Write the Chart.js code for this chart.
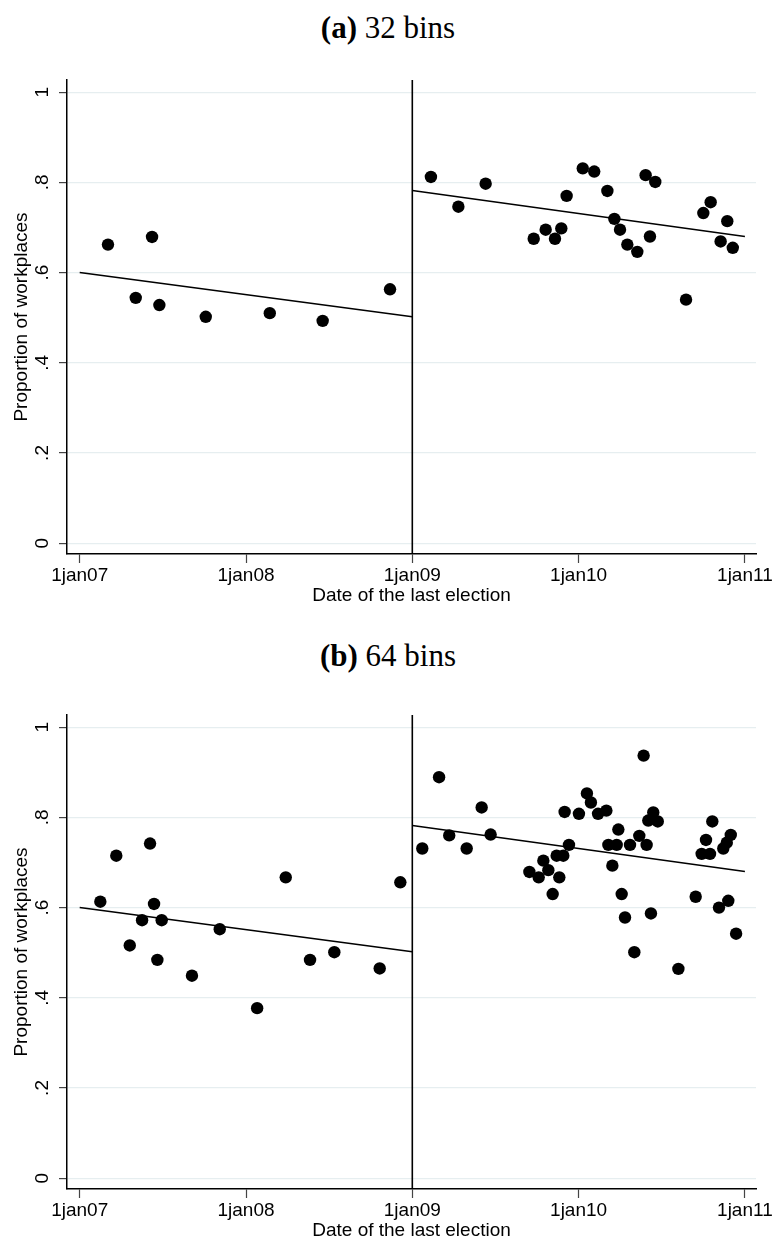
<!DOCTYPE html>
<html>
<head>
<meta charset="utf-8">
<script src="https://cdn.jsdelivr.net/npm/chart.js@4.4.1/dist/chart.umd.min.js"></script>
<style>
  html, body { margin: 0; padding: 0; background: #fff; }
  body { width: 776px; height: 1240px; position: relative; overflow: hidden; }
  .panel-title {
    position: absolute; left: 0; width: 776px; text-align: center;
    font-family: "Liberation Serif", "Times New Roman", serif;
    font-size: 31px; line-height: 34px; color: #000;
  }
  .panel-title b { font-weight: bold; }
  canvas { position: absolute; left: 0; }
</style>
</head>
<body>
<div class="panel-title" style="top:11px"><b>(a)</b> 32 bins</div>
<canvas id="bins32" width="776" height="605" style="top:0"></canvas>
<div class="panel-title" style="top:639px"><b>(b)</b> 64 bins</div>
<canvas id="bins64" width="776" height="605" style="top:635px"></canvas>
<script>
// Election dates as decimal years; the reform cutoff is 1 January 2009.
const cutoffDate = 2009;
const xTickDates = [2007, 2008, 2009, 2010, 2011];
const xTickLabels = ['1jan07', '1jan08', '1jan09', '1jan10', '1jan11'];
const yTickValues = [0, 0.2, 0.4, 0.6, 0.8, 1];
const yTickLabels = ['0', '.2', '.4', '.6', '.8', '1'];

// Linear fits on each side of the cutoff (same for both binnings)
const fitPreDates = [2007, 2009];
const fitPreShare = [0.600, 0.502];
const fitPostDates = [2009, 2011];
const fitPostShare = [0.782, 0.680];

// 32 bins: bin mean dates and proportions
const bins32PreDates = [2007.170, 2007.337, 2007.435, 2007.479, 2007.758, 2008.143, 2008.461, 2008.866];
const bins32PreShare = [0.662, 0.544, 0.679, 0.528, 0.502, 0.510, 0.493, 0.563];
const bins32PostDates = [2009.112, 2009.277, 2009.441, 2009.730, 2009.802, 2009.858, 2009.896, 2009.928,
  2010.025, 2010.094, 2010.173, 2010.215, 2010.249, 2010.293, 2010.353, 2010.403,
  2010.429, 2010.461, 2010.646, 2010.750, 2010.794, 2010.854, 2010.894, 2010.927];
const bins32PostShare = [0.812, 0.746, 0.797, 0.675, 0.695, 0.675, 0.698, 0.770,
  0.831, 0.824, 0.781, 0.719, 0.695, 0.662, 0.646, 0.816,
  0.680, 0.801, 0.540, 0.732, 0.756, 0.669, 0.714, 0.655];

// 64 bins
const bins64PreDates = [2007.124, 2007.220, 2007.301, 2007.375, 2007.423, 2007.447, 2007.467, 2007.493,
  2007.675, 2007.842, 2008.067, 2008.239, 2008.385, 2008.531, 2008.804, 2008.928];
const bins64PreShare = [0.613, 0.715, 0.516, 0.572, 0.742, 0.608, 0.484, 0.572,
  0.449, 0.552, 0.377, 0.667, 0.484, 0.501, 0.465, 0.656];
const bins64PostDates = [2009.060, 2009.161, 2009.222, 2009.327, 2009.417, 2009.471, 2009.704, 2009.760,
  2009.788, 2009.818, 2009.844, 2009.868, 2009.884, 2009.908, 2009.916, 2009.942,
  2010.002, 2010.050, 2010.074, 2010.117, 2010.167, 2010.179, 2010.203, 2010.229,
  2010.239, 2010.259, 2010.279, 2010.309, 2010.335, 2010.365, 2010.391, 2010.409,
  2010.419, 2010.435, 2010.449, 2010.476, 2010.600, 2010.704, 2010.740, 2010.766,
  2010.790, 2010.804, 2010.844, 2010.870, 2010.891, 2010.900, 2010.915, 2010.947];
const bins64PostShare = [0.731, 0.889, 0.760, 0.731, 0.822, 0.762, 0.679, 0.667,
  0.704, 0.683, 0.630, 0.715, 0.667, 0.715, 0.812, 0.739,
  0.808, 0.853, 0.833, 0.808, 0.815, 0.739, 0.693, 0.739,
  0.773, 0.630, 0.578, 0.739, 0.501, 0.759, 0.937, 0.739,
  0.793, 0.587, 0.811, 0.791, 0.464, 0.624, 0.719, 0.750,
  0.719, 0.791, 0.600, 0.731, 0.744, 0.615, 0.761, 0.542];

const FONT = '"Liberation Sans", Arial, Helvetica, sans-serif';

const pairs = (xs, ys) => xs.map((x, i) => ({ x: x, y: ys[i] }));

// Vertical reference line at the cutoff date
const cutoffLine = {
  id: 'cutoffLine',
  afterDatasetsDraw(chart, args, opts) {
    const { ctx, chartArea, scales } = chart;
    const x = scales.x.getPixelForValue(opts.value);
    ctx.save();
    ctx.strokeStyle = '#000';
    ctx.lineWidth = 1.6;
    ctx.beginPath();
    ctx.moveTo(x, chartArea.top);
    ctx.lineTo(x, chartArea.bottom);
    ctx.stroke();
    ctx.restore();
  }
};

function dots(data) {
  return {
    data: data, showLine: false,
    pointRadius: 6.2, pointHoverRadius: 6.2,
    pointBackgroundColor: '#000', pointBorderWidth: 0, borderWidth: 0
  };
}
function fitLine(data) {
  return {
    data: data, showLine: true, borderColor: '#000', borderWidth: 1.6,
    pointRadius: 0, pointHoverRadius: 0, fill: false, tension: 0
  };
}

function drawPanel(canvasId, preDates, preShare, postDates, postShare) {
  new Chart(document.getElementById(canvasId), {
    type: 'scatter',
    data: {
      datasets: [
        fitLine(pairs(fitPreDates, fitPreShare)),
        fitLine(pairs(fitPostDates, fitPostShare)),
        dots(pairs(preDates, preShare)),
        dots(pairs(postDates, postShare))
      ]
    },
    options: {
      responsive: false,
      animation: false,
      devicePixelRatio: 1,
      layout: { padding: { top: 80, right: 20, left: 0, bottom: 0 } },
      plugins: {
        legend: { display: false },
        tooltip: { enabled: false },
        cutoffLine: { value: cutoffDate }
      },
      scales: {
        x: {
          type: 'linear',
          min: 2006.9236, max: 2011.0667,
          afterBuildTicks: s => { s.ticks = xTickDates.map(v => ({ value: v })); },
          afterFit: s => { s.height = 51; },
          ticks: {
            callback: v => xTickLabels[xTickDates.indexOf(v)],
            autoSkip: false, maxRotation: 0, minRotation: 0,
            padding: 1, color: '#000',
            font: { family: FONT, size: 19 }
          },
          grid: { drawOnChartArea: false, tickLength: 9, tickColor: '#444', tickWidth: 1.2 },
          border: { color: '#000', width: 1.5 },
          title: {
            display: true, text: 'Date of the last election', color: '#000',
            font: { family: FONT, size: 19, lineHeight: 1 },
            padding: { top: 0, bottom: 0 }
          }
        },
        y: {
          type: 'linear',
          min: -0.024, max: 1.027,
          afterBuildTicks: s => { s.ticks = yTickValues.map(v => ({ value: v })); },
          afterFit: s => { s.width = 67; },
          ticks: {
            callback: v => yTickLabels[yTickValues.indexOf(v)],
            minRotation: 90, maxRotation: 90, crossAlign: 'center',
            padding: 8, color: '#000',
            font: { family: FONT, size: 19 }
          },
          grid: { color: '#e6eef0', lineWidth: 1.2, tickLength: 8, tickColor: '#444', tickWidth: 1.2 },
          border: { color: '#000', width: 1.5 },
          title: {
            display: true, text: 'Proportion of workplaces', color: '#000',
            font: { family: FONT, size: 19, lineHeight: 1.2 },
            padding: { top: 10, bottom: 0 }
          }
        }
      }
    },
    plugins: [cutoffLine]
  });
}

drawPanel('bins32', bins32PreDates, bins32PreShare, bins32PostDates, bins32PostShare);
drawPanel('bins64', bins64PreDates, bins64PreShare, bins64PostDates, bins64PostShare);
</script>
</body>
</html>
